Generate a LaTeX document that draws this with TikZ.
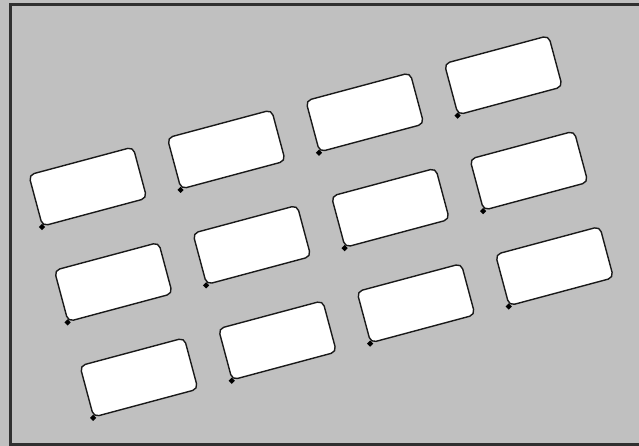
\documentclass[tikz,border=0pt]{standalone}
\usetikzlibrary{positioning}

\definecolor{panel}{HTML}{C0C0C0}
\definecolor{rim}{HTML}{303030}

\begin{document}
\begin{tikzpicture}[
    x=1pt, y=1pt,
    card/.style={draw=black!90, fill=white, line width=1.4pt,
                 rectangle, rounded corners=5.5pt, anchor=south west,
                 minimum width=108pt, minimum height=53pt, inner sep=0pt},
    grip/.style={fill=black, rectangle, rotate=45, inner sep=0pt,
                 minimum size=4.4pt},
]
\useasboundingbox (0,0) rectangle (639,446);
\fill[panel] (0,0) rectangle (639,446);
\draw[rim, line width=3pt] (650,441) -- (10,441) -- (10,1.5) -- (650,1.5);

\begin{scope}[shift={(42,219)}, rotate=15, transform shape]
\node[card] (r1c1) at (0,0)      {};
\node[card] (r1c2) at (143.4,0)  {};
\node[card] (r1c3) at (286.8,0)  {};
\node[card] (r1c4) at (430.2,0)  {};

\node[card] (r2c1) at (0,-98.8)      {};
\node[card] (r2c2) at (143.4,-98.8)  {};
\node[card] (r2c3) at (286.8,-98.8)  {};
\node[card] (r2c4) at (430.2,-98.8)  {};

\node[card] (r3c1) at (0,-197.6)      {};
\node[card] (r3c2) at (143.4,-197.6)  {};
\node[card] (r3c3) at (286.8,-197.6)  {};
\node[card] (r3c4) at (430.2,-197.6)  {};
\end{scope}

% corner marks
\node[grip] (g11) at (r1c1.south west) {};
\node[grip] (g12) at (r1c2.south west) {};
\node[grip] (g13) at (r1c3.south west) {};
\node[grip] (g14) at (r1c4.south west) {};
\node[grip] (g21) at (r2c1.south west) {};
\node[grip] (g22) at (r2c2.south west) {};
\node[grip] (g23) at (r2c3.south west) {};
\node[grip] (g24) at (r2c4.south west) {};
\node[grip] (g31) at (r3c1.south west) {};
\node[grip] (g32) at (r3c2.south west) {};
\node[grip] (g33) at (r3c3.south west) {};
\node[grip] (g34) at (r3c4.south west) {};
\end{tikzpicture}
\end{document}
